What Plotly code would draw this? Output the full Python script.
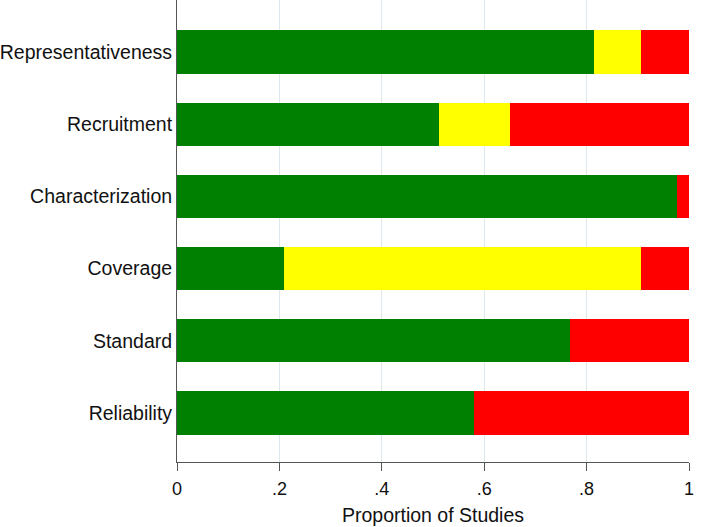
import plotly.graph_objects as go

categories = ["Representativeness", "Recruitment", "Characterization", "Coverage", "Standard", "Reliability"]
green_vals = [0.814, 0.512, 0.977, 0.209, 0.767, 0.581]
yellow_vals = [0.093, 0.139, 0.0, 0.698, 0.0, 0.0]
red_vals = [0.093, 0.349, 0.023, 0.093, 0.233, 0.419]
tick_vals = [0, 0.2, 0.4, 0.6, 0.8, 1]
tick_text = ["0", ".2", ".4", ".6", ".8", "1"]

cats = categories[::-1]
fig = go.Figure()
for vals, col in [(green_vals, "#008000"), (yellow_vals, "#ffff00"), (red_vals, "#ff0000")]:
    fig.add_trace(go.Bar(y=cats, x=vals[::-1], orientation="h", marker=dict(color=col, line=dict(width=0)),
                         width=0.6, showlegend=False))

fig.update_layout(
    barmode="stack",
    width=709, height=527,
    margin=dict(l=177, r=20, t=0, b=65, autoexpand=False),
    paper_bgcolor="white", plot_bgcolor="white",
    font=dict(family="Liberation Sans, Arial, sans-serif", size=19, color="#111"),
    xaxis=dict(range=[0, 1], tickvals=tick_vals, ticktext=tick_text, showgrid=True,
               gridcolor="#dde8ee", gridwidth=1, zeroline=False, showline=True, linecolor="#555",
               linewidth=1, ticks="outside", ticklen=8, tickcolor="#555", automargin=False,
               tickfont=dict(size=18), ticklabelstandoff=2,
               title=dict(text="Proportion of Studies", standoff=10, font=dict(size=19.5))),
    yaxis=dict(range=[-0.68, 5.72], showline=True, linecolor="#555", linewidth=1,
               ticks="outside", ticklen=0, showgrid=False, zeroline=False, automargin=False,
               tickfont=dict(size=19.5)),
)
fig.write_html("out.html", config={"displayModeBar": False},
               post_script="document.body.style.margin='0';")
